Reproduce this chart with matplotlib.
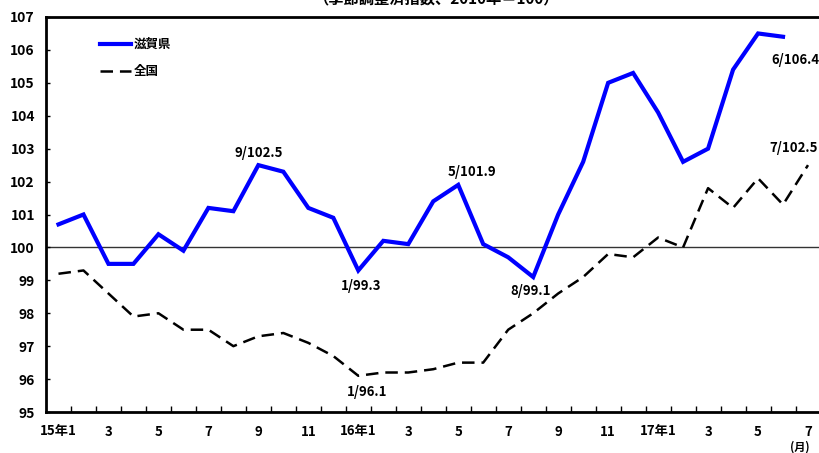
import matplotlib
matplotlib.use("Agg")
import matplotlib.pyplot as plt

plt.rcParams['font.family'] = ['Noto Sans CJK JP', 'DejaVu Sans']
plt.rcParams['font.weight'] = 'bold'
plt.rcParams['lines.scale_dashes'] = False

# Monthly index, Jan 2015 - Jul 2017 (seasonally adjusted, 2010 = 100)
months = list(range(31))
tick_labels = ['15年1', '3', '5', '7', '9', '11',
               '16年1', '3', '5', '7', '9', '11',
               '17年1', '3', '5', '7']
shiga = [100.7, 101.0, 99.5, 99.5, 100.4, 99.9, 101.2, 101.1, 102.5, 102.3,
         101.2, 100.9, 99.3, 100.2, 100.1, 101.4, 101.9, 100.1, 99.7, 99.1,
         101.0, 102.6, 105.0, 105.3, 104.1, 102.6, 103.0, 105.4, 106.5, 106.4]
national = [99.2, 99.3, 98.6, 97.9, 98.0, 97.5, 97.5, 97.0, 97.3, 97.4,
            97.1, 96.7, 96.1, 96.2, 96.2, 96.3, 96.5, 96.5, 97.5, 98.0,
            98.6, 99.1, 99.8, 99.7, 100.3, 100.0, 101.8, 101.2, 102.1, 101.3,
            102.5]

# (series, index, label, offset in points, horizontal alignment)
callouts = [
    (shiga, 8, '9/102.5', (0, 9), 'center'),
    (shiga, 12, '1/99.3', (2, -11), 'center'),
    (shiga, 16, '5/101.9', (10, 9), 'center'),
    (shiga, 19, '8/99.1', (-2, -10), 'center'),
    (shiga, 29, '6/106.4', (-8.6, -16.5), 'left'),
    (national, 30, '7/102.5', (-28, 12), 'left'),
    (national, 12, '1/96.1', (6, -11.5), 'center'),
]

fig = plt.figure(figsize=(8.2, 4.53), dpi=100)
W, H = 820, 453
ax = fig.add_axes([46 / W, (H - 412) / H, 774.5 / W, 395 / H])

ax.axhline(100, color='#333333', lw=1.0, zorder=1)
ax.plot(months[:len(shiga)], shiga, color='#0000FF', lw=3.0,
        label='滋賀県', zorder=3, solid_joinstyle='miter')
ax.plot(months, national, color='black', lw=1.8, dashes=(9, 5),
        label='全国', zorder=2)

for series, i, text, off, ha in callouts:
    ax.annotate(text, xy=(i, series[i]), xytext=off,
                textcoords='offset points', ha=ha, va='center',
                fontsize=9.5, fontweight='bold', annotation_clip=False)

ax.set_xlim(-0.5, 30.5)
ax.set_ylim(95, 107)
ax.set_yticks(range(95, 108))
ax.set_xticks(months[::2])
ax.set_xticklabels(tick_labels)
ax.set_xticks([m - 0.5 for m in months[1:]], minor=True)

ax.tick_params(axis='x', which='major', length=0, pad=9, labelsize=9.5)
ax.tick_params(axis='x', which='minor', direction='in', length=4, width=1)
ax.tick_params(axis='y', direction='in', length=3, width=1, pad=8,
               labelsize=10)

for side in ('left', 'bottom', 'top'):
    ax.spines[side].set_linewidth(2)
ax.spines['right'].set_visible(False)

leg = ax.legend(loc='upper left',
                bbox_to_anchor=((100 - 46) / 774.5, (412 - 38) / 395),
                frameon=False, fontsize=9, handlelength=2.5,
                handletextpad=0.2, labelspacing=1.15, borderpad=0,
                borderaxespad=0)
for t in leg.get_texts():
    t.set_fontweight('bold')

fig.text(437 / W, 1 - 6 / H, '（季節調整済指数、2010年＝100）',
         ha='center', va='bottom', fontsize=11, fontweight='bold')
fig.text(800 / W, 1 - 447 / H, '(月)', ha='center', va='center',
         fontsize=8, fontweight='bold')

fig.savefig('out.png', dpi=100)
